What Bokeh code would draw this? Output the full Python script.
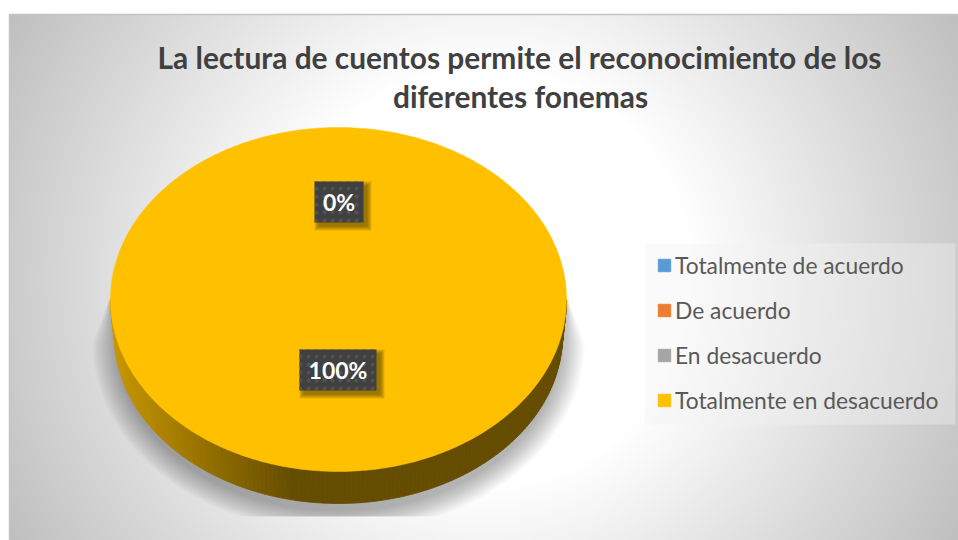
import numpy as np
from bokeh.plotting import figure
from bokeh.models import Range1d, Legend, LegendItem
from bokeh.core.properties import value
from bokeh.embed import file_html
from bokeh.resources import INLINE

title_lines = ["La lectura de cuentos permite el reconocimiento de los", "diferentes fonemas"]
categories = ["Totalmente de acuerdo", "De acuerdo", "En desacuerdo", "Totalmente en desacuerdo"]
shares = [0, 0, 0, 100]
colors = ["#5b9bd5", "#ed7d31", "#a5a5a5", "#ffc000"]
label_texts = ["0%", "100%"]

W, H = 958, 540
FONT = "Lato"

p = figure(width=W, height=H, output_backend="svg", toolbar_location=None,
           x_range=Range1d(0, W), y_range=Range1d(H, 0), min_border=0,
           border_fill_color="white", outline_line_color=None)
p.axis.visible = False
p.grid.visible = False

# backdrop: radial gradient, white core fading to grey corners
bx0, by0 = 9, 14
bw, bh = W - bx0, H - by0
xx, yy = np.meshgrid(np.arange(bw) + bx0, np.arange(bh) + by0)
d = np.hypot(xx - 483.0, yy - 277.0) / 543.0
t = np.clip((d - 0.385) / (1 - 0.385), 0, 1)
g = np.clip(255 - 64 * t, 0, 255).astype(np.uint32)
img = (255 << 24) | (g << 16) | (g << 8) | g
p.image_rgba(image=[img], x=bx0, y=by0, dw=bw, dh=bh)
p.quad(left=bx0, right=W + 2, top=by0, bottom=H + 2, fill_color=None, line_color="#c4c4c4", line_width=1.5)

# pie geometry, in page pixels
pcx, pcy, prx, pry = 338, 299, 228, 172
lcy, lrx, lry = 335, 224, 168

# soft shadow, cut off flat at its lower edge
for k in range(16):
    rx, ry = 222 + k * 1.6, 168 + k * 1.4
    th = np.linspace(0, np.pi, 120)
    sx = pcx + rx * np.cos(th)
    sy = lcy + 8 + ry * np.sin(th)
    sx = np.concatenate([[pcx + 228 + k * 0.1], sx, [pcx - 228 - k * 0.1]])
    sy = np.concatenate([[pcy], sy, [pcy]])
    sy = np.minimum(sy, 516)
    p.patch(sx, sy, fill_color="black", fill_alpha=0.018, line_color=None)

# slices: angles clockwise from 12 o'clock, from the shares
total = sum(shares)
edges = np.cumsum([0] + shares) / total * 2 * np.pi

def side_color(x):
    t = np.clip((x - 113) / 180.0, 0, 1)
    a, b = np.array([0xc8, 0x97, 0x00]), np.array([0x65, 0x4c, 0x00])
    c = a + (b - a) * t
    return "#%02x%02x%02x" % tuple(int(v) for v in c)

ths = np.linspace(0, np.pi, 161)
for a0, a1 in zip(ths[:-1], ths[1:]):
    qx = [pcx + prx * np.cos(a0), pcx + prx * np.cos(a1), pcx + lrx * np.cos(a1), pcx + lrx * np.cos(a0)]
    qy = [pcy + pry * np.sin(a0), pcy + pry * np.sin(a1), lcy + lry * np.sin(a1), lcy + lry * np.sin(a0)]
    col = side_color(np.mean(qx))
    p.patch(qx, qy, fill_color=col, line_color=col, line_width=0.8)

renderers = []
for i, (name, col) in enumerate(zip(categories, colors)):
    t = np.linspace(edges[i], edges[i + 1], 361)
    sx = pcx + prx * np.sin(t)
    sy = pcy - pry * np.cos(t)
    r = p.patch(sx, sy, fill_color=col, line_color=col, line_width=0.5)
    renderers.append(r)

# data labels
lab_x = [338.5, 337.5]
lab_y = [201.5, 369.5]
lab_w = [49, 77]
lab_h = [41, 41]
for k in range(5):
    p.rect(x=[v + 4 for v in lab_x], y=[v + 4 for v in lab_y],
           width=[v + 8 - 2 * k for v in lab_w], height=[v + 8 - 2 * k for v in lab_h],
           fill_color="#5a4300", fill_alpha=0.16, line_color=None)
p.rect(x=lab_x, y=lab_y, width=lab_w, height=lab_h, fill_color="#404040", line_color=None,
       hatch_pattern="dot", hatch_color="#525252", hatch_scale=8, hatch_weight=1.5)
p.text(x=lab_x, y=lab_y, text=label_texts, text_color="white", text_font=value(FONT),
       text_font_style="bold", text_font_size="23px", text_align="center", text_baseline="middle")

# title
p.text(x=[519, 520], y=[56, 95], text=title_lines, text_color="#404040",
       text_font=value(FONT), text_font_style="bold", text_font_size="29.9px",
       text_align="center", text_baseline="middle")

# legend panel and legend
p.quad(left=[644], right=[955], top=[243], bottom=[424], fill_color="#f2f2f2", fill_alpha=0.39, line_color=None)
legend = Legend(items=[LegendItem(label=c, renderers=[r]) for c, r in zip(categories, renderers)],
                location=(656, H - 414), orientation="vertical",
                padding=10, spacing=17, margin=0, glyph_width=16, glyph_height=16, label_standoff=3,
                label_text_font=FONT, label_text_font_size="22.8px", label_text_color="#595959",
                label_height=21, border_line_color=None, background_fill_alpha=0)
p.add_layout(legend, "center")

open("out.html", "w").write(file_html(p, INLINE))
